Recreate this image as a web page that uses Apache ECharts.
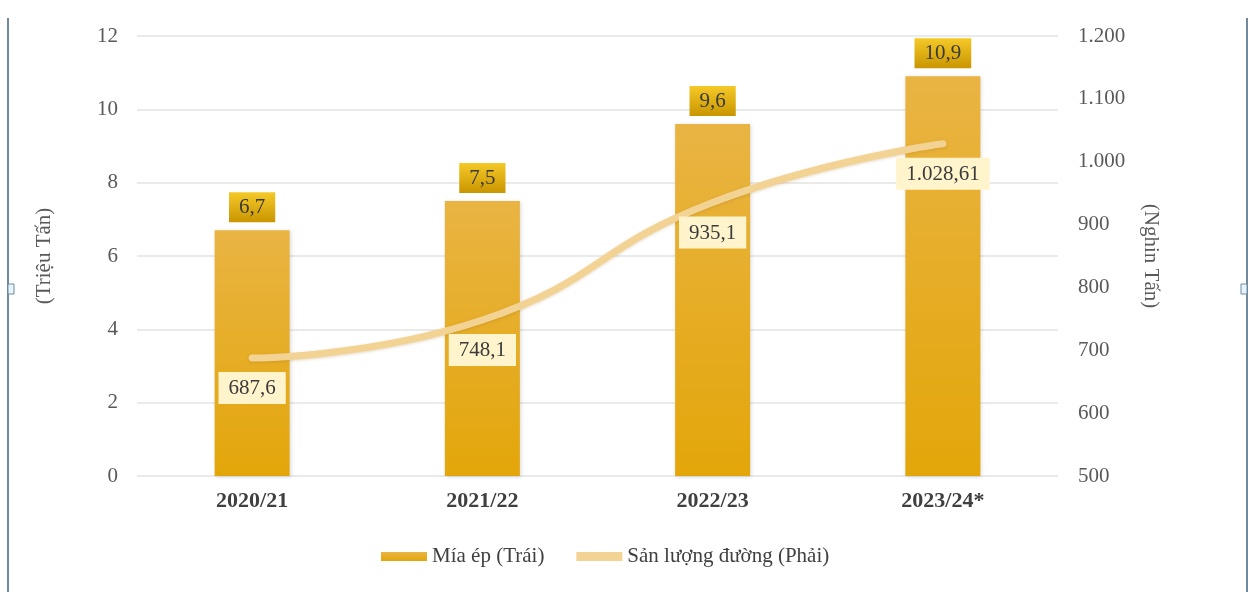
<!DOCTYPE html>
<html><head><meta charset="utf-8">
<script src="https://cdn.jsdelivr.net/npm/echarts@6/dist/echarts.min.js"></script>
<style>html,body{margin:0;padding:0;background:#fff}#c{width:1255px;height:592px}</style>
</head><body><div id="c"></div>
<script>
const categories = ['2020/21','2021/22','2022/23','2023/24*'];
const miaEp = [6.7, 7.5, 9.6, 10.9];
const sanLuongDuong = [687.6, 748.1, 935.1, 1028.61];
const seriesNames = ['Mía ép (Trái)', 'Sản lượng đường (Phải)'];
const leftAxisName = '(Triệu Tấn)';
const rightAxisName = '(Nghin Tấn)';

function fmtVN(v, dec) {
  const s = dec == null ? String(v) : v.toFixed(dec);
  const parts = s.split('.');
  parts[0] = parts[0].replace(/\B(?=(\d{3})+(?!\d))/g, '.');
  return parts.length > 1 ? parts[0] + ',' + parts[1] : parts[0];
}
const FONT = '"Liberation Serif", "DejaVu Serif", serif';
const FS = 21;
const LINE_COLOR = '#F3D393';
const chart = echarts.init(document.getElementById('c'));
chart.setOption({
  animation: false,
  textStyle: { fontFamily: FONT },
  grid: { left: 137, right: 197, top: 36, bottom: 116 },
  legend: {
    top: 541, left: 376, itemGap: 32, itemWidth: 46, itemHeight: 9,
    textStyle: { fontFamily: FONT, fontSize: FS, color: '#404040' },
    data: [
      { name: seriesNames[0], icon: 'rect' },
      { name: seriesNames[1], icon: 'rect', itemStyle: { color: LINE_COLOR, opacity: 1 } }
    ]
  },
  xAxis: {
    type: 'category', data: categories,
    axisLine: { show: false }, axisTick: { show: false },
    axisLabel: { fontFamily: FONT, fontSize: 22, fontWeight: 'bold', color: '#404040', margin: 14 }
  },
  yAxis: [
    { type: 'value', min: 0, max: 12, interval: 2,
      name: leftAxisName, nameLocation: 'middle', nameGap: 82, nameRotate: 90,
      nameTextStyle: { fontFamily: FONT, fontSize: FS, color: '#595959' },
      axisLine: { show: false }, axisTick: { show: false },
      axisLabel: { fontFamily: FONT, fontSize: FS, color: '#595959', margin: 19 },
      splitLine: { lineStyle: { color: '#e3e3e3', width: 1.5 } } },
    { type: 'value', min: 500, max: 1200, interval: 100,
      name: rightAxisName, nameLocation: 'middle', nameGap: 82, nameRotate: -90,
      nameTextStyle: { fontFamily: FONT, fontSize: FS, color: '#595959' },
      axisLine: { show: false }, axisTick: { show: false },
      axisLabel: { fontFamily: FONT, fontSize: FS, color: '#595959', margin: 20,
        formatter: v => fmtVN(v) },
      splitLine: { show: false } }
  ],
  series: [
    { name: seriesNames[0], type: 'bar', data: miaEp, yAxisIndex: 0, barWidth: 75,
      itemStyle: {
        color: new echarts.graphic.LinearGradient(0, 0, 0, 1, [
          { offset: 0, color: '#E9B443' }, { offset: 1, color: '#E3A60A' }
        ]),
        shadowColor: 'rgba(0,0,0,0.15)', shadowBlur: 4, shadowOffsetX: 1, shadowOffsetY: 1
      },
      label: { show: true, position: 'top', distance: 8,
        formatter: p => fmtVN(p.value, 1),
        fontFamily: FONT, fontSize: FS, color: '#3a3a3a',
        padding: [5, 10, 4, 10],
        backgroundColor: new echarts.graphic.LinearGradient(0, 0, 0, 1, [
          { offset: 0, color: '#F5C928' }, { offset: 1, color: '#C99500' }
        ]) }
    },
    { name: seriesNames[1], type: 'line', data: sanLuongDuong, yAxisIndex: 1, smooth: 0.5,
      symbol: 'circle', symbolSize: 2, showSymbol: true, z: 3,
      lineStyle: { color: LINE_COLOR, width: 7, cap: 'round',
        shadowColor: 'rgba(150,100,0,0.25)', shadowBlur: 3, shadowOffsetY: 1 },
      itemStyle: { color: LINE_COLOR, borderWidth: 0 },
      label: { show: true, position: 'bottom', distance: 13,
        formatter: p => fmtVN(p.value),
        fontFamily: FONT, fontSize: FS, color: '#3a3a3a',
        padding: [6, 10, 5, 10], backgroundColor: '#FFF4CC' }
    }
  ],
  graphic: [
    { type: 'line', shape: { x1: 8, y1: 18, x2: 8, y2: 592 }, style: { stroke: '#6f8aa0', lineWidth: 2 } },
    { type: 'rect', shape: { x: 8, y: 284, width: 6, height: 10 }, style: { fill: '#e8f4fb', stroke: '#6f8aa0', lineWidth: 1 } },
    { type: 'line', shape: { x1: 1247, y1: 18, x2: 1247, y2: 592 }, style: { stroke: '#6f8aa0', lineWidth: 2 } },
    { type: 'rect', shape: { x: 1241, y: 284, width: 6, height: 10 }, style: { fill: '#e8f4fb', stroke: '#6f8aa0', lineWidth: 1 } }
  ]
});
</script></body></html>
